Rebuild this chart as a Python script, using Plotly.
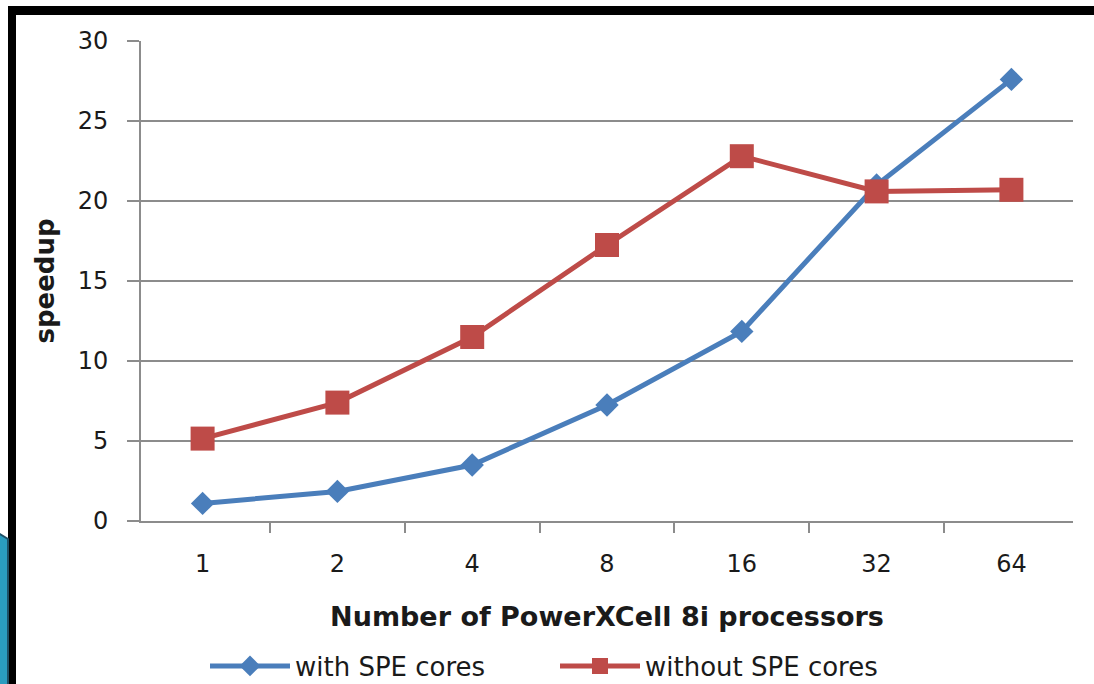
import plotly.graph_objects as go

# Processor counts (category axis) and measured speedups
processors = ["1", "2", "4", "8", "16", "32", "64"]
with_spe = [1.1, 1.85, 3.5, 7.25, 11.85, 21.0, 27.6]
without_spe = [5.15, 7.4, 11.5, 17.25, 22.8, 20.6, 20.7]
y_ticks = [0, 5, 10, 15, 20, 25, 30]

BLUE = "#4A7EBB"
RED = "#BE4B48"
GRID = "#8c8c8c"

W, H = 1094, 684
L, R, T, B = 141, 21, 41, 163


def px(x):
    """Pixel column -> paper x."""
    return (x - L) / (W - L - R)


def py(y):
    """Pixel row -> paper y."""
    return (H - B - y) / (H - T - B)


fig = go.Figure()
fig.add_trace(go.Scatter(
    x=processors, y=with_spe, name="with SPE cores", mode="lines+markers",
    line=dict(color=BLUE, width=5),
    marker=dict(symbol="diamond", size=18, color=BLUE),
))
fig.add_trace(go.Scatter(
    x=processors, y=without_spe, name="without SPE cores", mode="lines+markers",
    line=dict(color=RED, width=5),
    marker=dict(symbol="square", size=24, color=RED),
))

# Slide frame: black top and left bars, teal corner at the lower left
shapes = [
    dict(type="rect", xref="paper", yref="paper",
         x0=px(8), x1=px(W + 5), y0=py(15), y1=py(6),
         fillcolor="black", line=dict(width=0), layer="above"),
    dict(type="rect", xref="paper", yref="paper",
         x0=px(8), x1=px(16), y0=py(H + 5), y1=py(6),
         fillcolor="black", line=dict(width=0), layer="above"),
    dict(type="path", xref="paper", yref="paper",
         path=(f"M {px(-2)} {py(533)} L {px(8)} {py(539)} "
               f"L {px(8)} {py(H + 5)} L {px(-2)} {py(H + 5)} Z"),
         fillcolor="#2a9cbf", line=dict(color="#1d4f66", width=2), layer="above"),
]

fig.update_layout(
    width=W, height=H,
    margin=dict(l=L, r=R, t=T, b=B, autoexpand=False),
    paper_bgcolor="white", plot_bgcolor="white",
    font=dict(family="DejaVu Sans", color="#1a1a1a"),
    showlegend=True,
    legend=dict(
        orientation="h", x=px(205), xanchor="left", y=py(666), yanchor="middle",
        font=dict(family="DejaVu Sans", size=26, color="#1a1a1a"),
        entrywidth=255, entrywidthmode="pixels", itemwidth=80,
        bgcolor="rgba(0,0,0,0)",
    ),
    shapes=shapes,
)

fig.update_xaxes(
    type="category", categoryorder="array", categoryarray=processors,
    showline=True, linecolor=GRID, linewidth=2,
    ticks="outside", ticklen=10, tickwidth=2, tickcolor=GRID,
    tickson="boundaries", showgrid=False,
    tickfont=dict(size=24, family="DejaVu Sans"),
    ticklabelstandoff=20,
    title=dict(text="<b>Number of PowerXCell 8i processors</b>",
               font=dict(size=27, family="DejaVu Sans"), standoff=30),
)
fig.update_yaxes(
    range=[0, 30], tickvals=y_ticks, showline=True, linecolor=GRID, linewidth=2,
    ticks="outside", ticklen=12, tickwidth=2, tickcolor=GRID,
    showgrid=True, gridcolor=GRID, gridwidth=2, zeroline=False,
    tickfont=dict(size=24, family="DejaVu Sans"),
    ticklabelstandoff=14,
    title=dict(text="<b>speedup</b>", font=dict(size=26, family="DejaVu Sans"),
               standoff=16),
)

fig.write_html("out.html")
